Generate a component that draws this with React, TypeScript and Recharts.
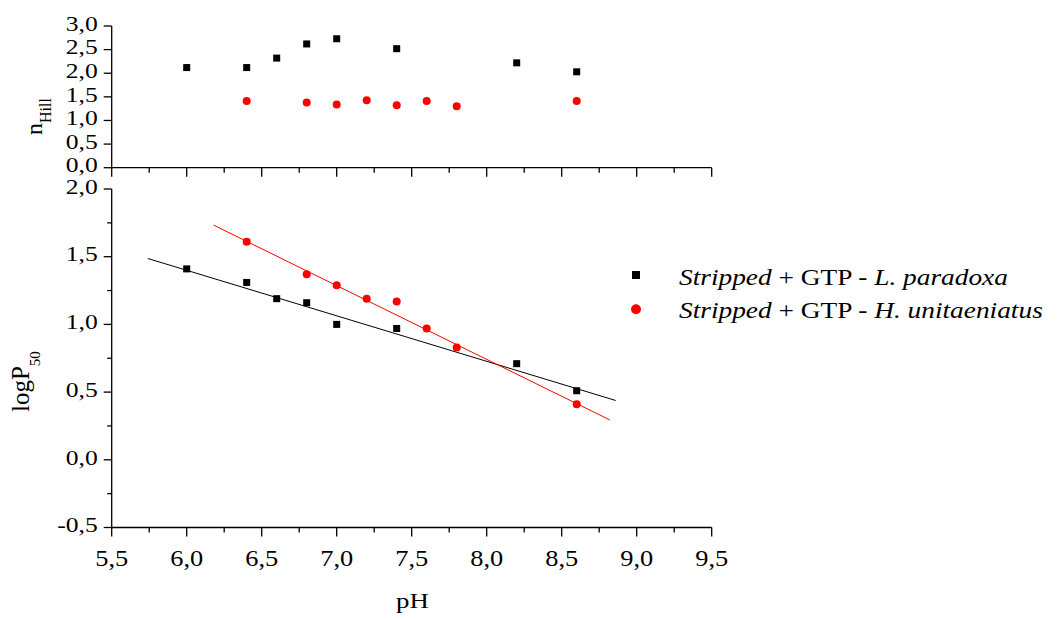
import { ScatterChart, Scatter, XAxis, YAxis, Legend } from "recharts";

const FONT = "'Liberation Serif', 'Times New Roman', serif";

// pH of each measurement
const phParadoxa = [6.0, 6.4, 6.6, 6.8, 7.0, 7.4, 8.2, 8.6];
const phUnitaeniatus = [6.4, 6.8, 7.0, 7.2, 7.4, 7.6, 7.8, 8.6];

// Hill coefficients
const hillParadoxa = [2.12, 2.12, 2.32, 2.62, 2.73, 2.52, 2.22, 2.03];
const hillUnitaeniatus = [1.41, 1.38, 1.34, 1.43, 1.32, 1.41, 1.3, 1.41];

// logP50
const p50Paradoxa = [1.41, 1.31, 1.19, 1.16, 1.0, 0.97, 0.71, 0.51];
const p50Unitaeniatus = [1.61, 1.37, 1.29, 1.19, 1.17, 0.97, 0.83, 0.41];

// linear fit end points
const fitParadoxaPh = [5.74, 8.86];
const fitParadoxaP50 = [1.487, 0.438];
const fitUnitaeniatusPh = [6.18, 8.82];
const fitUnitaeniatusP50 = [1.733, 0.295];

const xTicks = [5.5, 5.75, 6, 6.25, 6.5, 6.75, 7, 7.25, 7.5, 7.75, 8, 8.25, 8.5, 8.75, 9, 9.25, 9.5];
const hillTicks = [0, 0.5, 1, 1.5, 2, 2.5, 3];
const p50Ticks = [-0.5, -0.25, 0, 0.25, 0.5, 0.75, 1, 1.25, 1.5, 1.75, 2];

const species = ["L. paradoxa", "H. unitaeniatus"];

const zip = (xs: number[], ys: number[]) => xs.map((x, i) => ({ x, y: ys[i] }));

const isMajor = (v: number) => Math.abs(v * 2 - Math.round(v * 2)) < 1e-6;
const fmt = (v: number) => v.toFixed(1).replace(".", ",");

const AXIS = { stroke: "#000", strokeWidth: 1.3 };

const XTick = ({ x, y, payload, showLabel }: any) => {
  const major = isMajor(payload.value);
  return (
    <g>
      <line x1={x} y1={y} x2={x} y2={y + (major ? 9 : 5)} {...AXIS} />
      {showLabel && major && (
        <text
          transform={`translate(${x},${y + 38.5}) scale(1.1,1)`}
          textAnchor="middle"
          fontSize={24}
          style={{ fontFamily: FONT }}
          fill="#000"
        >
          {fmt(payload.value)}
        </text>
      )}
    </g>
  );
};

const YTick = ({ x, y, payload }: any) => {
  const major = isMajor(payload.value);
  return (
    <g>
      <line x1={x} y1={y} x2={x - (major ? 8 : 4.5)} y2={y} {...AXIS} />
      {major && (
        <text
          transform={`translate(${x - 14},${y + 4.7}) scale(1.22,1)`}
          textAnchor="end"
          fontSize={21}
          style={{ fontFamily: FONT }}
          fill="#000"
        >
          {fmt(payload.value)}
        </text>
      )}
    </g>
  );
};

const Square = ({ cx, cy }: any) => (
  <rect x={cx - 3.5} y={cy - 3.5} width={7} height={7} fill="#000" />
);
const RedDot = ({ cx, cy }: any) => <circle cx={cx} cy={cy} r={4} fill="#ff0000" />;
const NoMark = () => <g />;

const LegendBox = () => (
  <svg width={458} height={80} style={{ display: "block", fontFamily: FONT }}>
    <rect x={32} y={21} width={8} height={8} fill="#000" />
    <circle cx={36} cy={59.3} r={5} fill="#ff0000" />
    {species.map((name, i) => (
      <text
        key={name}
        transform={`translate(79,${35 + i * 33.3}) scale(1.14,1)`}
        fontSize={24}
        fill="#000"
      >
        <tspan fontStyle="italic">Stripped</tspan>
        <tspan> + GTP - </tspan>
        <tspan fontStyle="italic">{name}</tspan>
      </text>
    ))}
  </svg>
);

const MARGIN_TOP_PANEL = { top: 26, right: 346.3, bottom: 0, left: 51.7 };
const MARGIN_BOTTOM_PANEL = { top: 189, right: 346.3, bottom: 0, left: 51.7 };

export default function App() {
  return (
    <div
      style={{
        position: "absolute",
        left: 0,
        top: 0,
        width: 1058,
        height: 619,
        background: "#fff",
        overflow: "hidden",
      }}
    >
      {/* logP50 vs pH */}
      <div style={{ position: "absolute", left: 0, top: 0 }}>
        <ScatterChart width={1058} height={619} margin={MARGIN_BOTTOM_PANEL}>
          <XAxis
            type="number"
            dataKey="x"
            domain={[5.5, 9.5]}
            ticks={xTicks}
            interval={0}
            height={91.5}
            axisLine={AXIS}
            tickLine={false}
            tickSize={0}
            tickMargin={0}
            tick={(p: any) => <XTick {...p} showLabel />}
          />
          <YAxis
            type="number"
            dataKey="y"
            domain={[-0.5, 2]}
            ticks={p50Ticks}
            interval={0}
            width={60}
            axisLine={AXIS}
            tickLine={false}
            tickSize={0}
            tickMargin={0}
            tick={(p: any) => <YTick {...p} />}
          />
          <Scatter
            data={zip(fitParadoxaPh, fitParadoxaP50)}
            line={{ stroke: "#000", strokeWidth: 1 }}
            shape={NoMark}
            legendType="none"
            isAnimationActive={false}
          />
          <Scatter
            data={zip(fitUnitaeniatusPh, fitUnitaeniatusP50)}
            line={{ stroke: "#ff0000", strokeWidth: 1 }}
            shape={NoMark}
            legendType="none"
            isAnimationActive={false}
          />
          <Scatter
            name={species[0]}
            data={zip(phParadoxa, p50Paradoxa)}
            shape={Square}
            isAnimationActive={false}
          />
          <Scatter
            name={species[1]}
            data={zip(phUnitaeniatus, p50Unitaeniatus)}
            shape={RedDot}
            isAnimationActive={false}
          />
          {/* horizontal + middle keeps the legend out of the plot offset */}
          <Legend
            layout="horizontal"
            align="center"
            verticalAlign="middle"
            content={<LegendBox />}
            wrapperStyle={{ position: "absolute", left: 600, top: 250, width: 458 }}
          />
        </ScatterChart>
      </div>

      {/* Hill coefficient vs pH */}
      <div style={{ position: "absolute", left: 0, top: 0 }}>
        <ScatterChart width={1058} height={200} margin={MARGIN_TOP_PANEL}>
          <XAxis
            type="number"
            dataKey="x"
            domain={[5.5, 9.5]}
            ticks={xTicks}
            interval={0}
            height={32.3}
            axisLine={AXIS}
            tickLine={false}
            tickSize={0}
            tickMargin={0}
            tick={(p: any) => <XTick {...p} />}
          />
          <YAxis
            type="number"
            dataKey="y"
            domain={[0, 3]}
            ticks={hillTicks}
            interval={0}
            width={60}
            axisLine={AXIS}
            tickLine={false}
            tickSize={0}
            tickMargin={0}
            tick={(p: any) => <YTick {...p} />}
          />
          <Scatter
            data={zip(phParadoxa, hillParadoxa)}
            shape={Square}
            isAnimationActive={false}
          />
          <Scatter
            data={zip(phUnitaeniatus, hillUnitaeniatus)}
            shape={RedDot}
            isAnimationActive={false}
          />
        </ScatterChart>
      </div>

      {/* axis titles */}
      <svg
        width={1058}
        height={619}
        style={{ position: "absolute", left: 0, top: 0, pointerEvents: "none", fontFamily: FONT }}
        fill="#000"
      >
        <text transform="translate(42,135) rotate(-90)" fontSize={24}>
          n
          <tspan fontSize={16} dy={9}>
            Hill
          </tspan>
        </text>
        <text transform="translate(29,412) rotate(-90)" fontSize={25}>
          logP
          <tspan fontSize={15} dy={11}>
            50
          </tspan>
        </text>
        <text transform="translate(396,608) scale(1.22,1)" fontSize={22}>
          pH
        </text>
      </svg>
    </div>
  );
}
